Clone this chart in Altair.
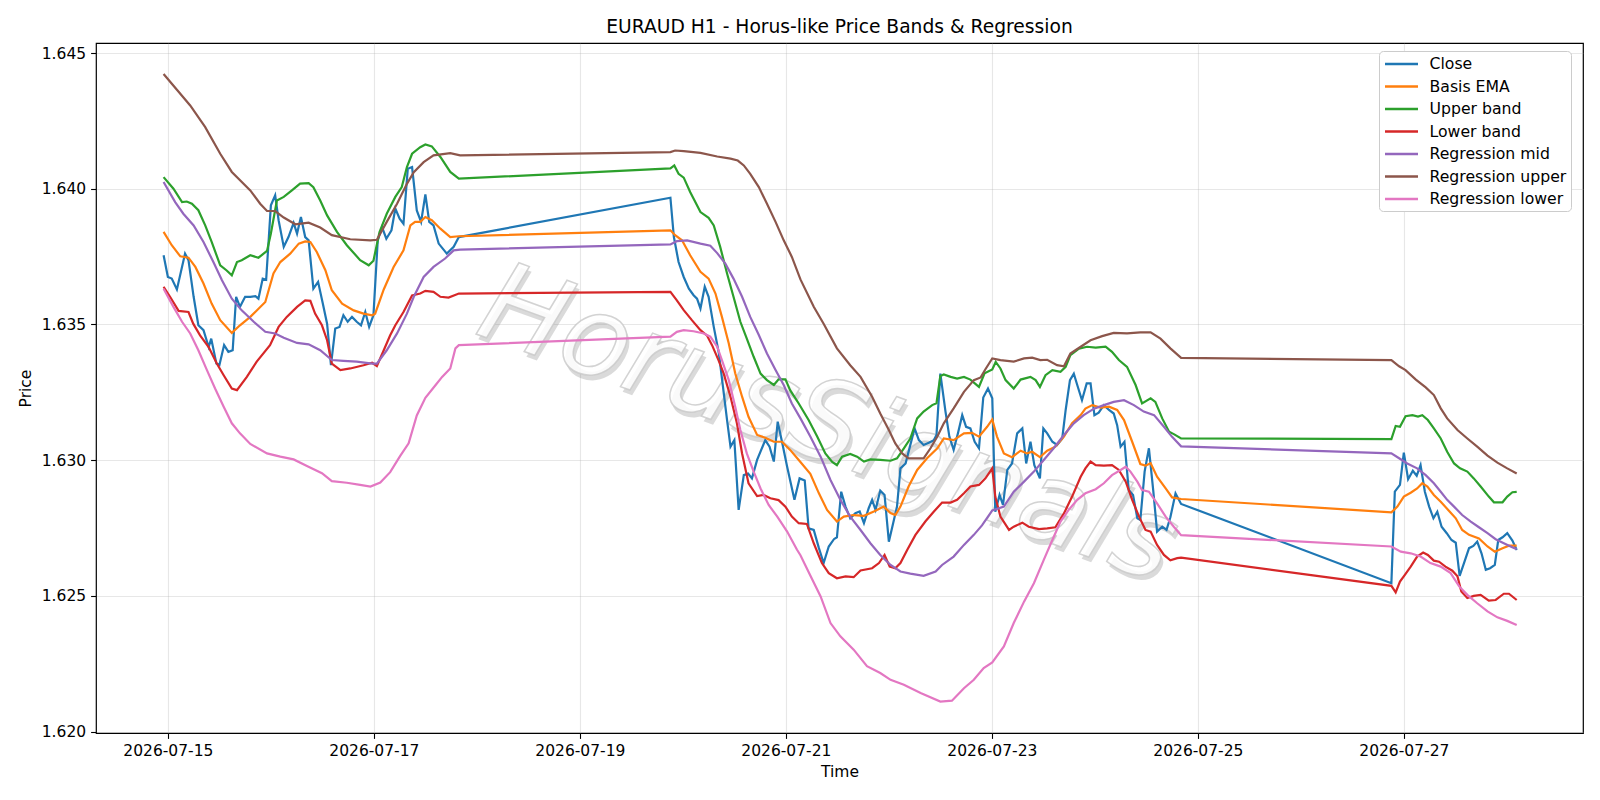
import altair as alt
import pandas as pd

# hours are counted from 2026-07-15 00:00 UTC (hourly EURAUD bars, weekend gaps)
close_h = [-1, 0, 0.9, 2.1, 4.0, 4.8, 6.0, 7.1, 8.3, 9.5, 10.1, 11.3, 12.0, 13.1, 14.1, 15.1, 15.9, 16.8, 18.0, 19.2,
           20.4, 21.1, 22.1, 22.9, 24.0, 25.0, 25.8, 27.0, 28.1, 29.3, 30.1, 31.0, 32.0, 32.8, 33.9, 35.0, 36.1, 37.1,
           38.0, 39.0, 40.0, 40.9, 41.9, 42.9, 44.0, 45.0, 46.0, 46.9, 47.9, 48.9, 49.9, 50.9, 52.1, 53.0, 54.0, 54.9,
           55.9, 56.9, 58.0, 59.0, 60.0, 60.9, 61.9, 63.1, 65.0, 66.6, 67.8,
           117.1, 117.9, 119.0, 120.2, 121.4, 122.5, 123.3, 124.1, 125.1, 126.0, 127.2, 128.4, 129.4, 130.3, 131.1,
           132.0, 133.0, 134.2, 135.2, 136.1, 137.3, 139.2, 140.2, 141.2, 142.1, 143.1, 144.3, 146.0, 147.2, 148.4,
           149.3, 150.5, 151.7, 152.8, 154.0, 155.2, 155.9, 156.9, 157.9, 159.0, 160.2, 161.2, 162.2, 163.3, 164.1,
           164.9, 166.0, 167.0, 168.0, 169.0, 169.9, 170.7, 171.9, 172.9, 174.0, 175.0, 176.1, 177.3, 178.5, 179.1,
           180.0, 181.2, 182.1, 183.1, 184.1, 185.1, 186.0, 187.0, 188.0, 189.0, 190.0, 191.1, 192.1, 192.8, 193.8,
           194.6, 195.6, 196.7, 197.9, 199.1, 200.0, 201.0, 201.9, 203.2, 204.0, 204.9, 206.1, 207.2, 208.4, 209.2,
           210.2, 211.1, 211.9, 213.0, 214.1, 215.0, 215.9, 216.9, 218.1, 219.3, 220.4, 221.2, 222.0, 222.9, 223.9,
           224.9, 225.9, 226.6, 227.6, 228.6, 229.6, 230.5, 231.7, 232.7, 233.6, 234.8, 236.1,
           285.1, 285.9, 287.1, 288.0, 289.0, 290.1, 291.0, 291.9, 292.9, 293.9, 294.9, 295.8, 296.8, 298.0, 299.1,
           300.1, 301.0, 302.0, 303.2, 304.2, 305.1, 306.1, 307.1, 308.1, 309.2, 310.0, 311.0, 312.1, 313.3, 314.3]
close_v = [1.63755, 1.63675, 1.63669, 1.63629, 1.63761, 1.63737, 1.63602, 1.63497, 1.63479, 1.63417, 1.63448, 1.63356,
           1.63350, 1.63424, 1.63399, 1.63405, 1.63602, 1.63565, 1.63602, 1.63602, 1.63604, 1.63595, 1.63669, 1.63665,
           1.63939, 1.63976, 1.63884, 1.63786, 1.63822, 1.63874, 1.63835, 1.63896, 1.63822, 1.63810, 1.63632, 1.63657,
           1.63577, 1.63503, 1.63350, 1.63485, 1.63491, 1.63534, 1.63510, 1.63528, 1.63510, 1.63497, 1.63546, 1.63491,
           1.63534, 1.63810, 1.63859, 1.63816, 1.63847, 1.63927, 1.63890, 1.63871, 1.64074, 1.64080, 1.63920, 1.63878,
           1.63979, 1.63878, 1.63865, 1.63798, 1.63761, 1.63786, 1.63822,
           1.63967, 1.63823, 1.63730, 1.63675, 1.63632, 1.63608, 1.63595, 1.63559, 1.63639, 1.63602, 1.63491, 1.63393,
           1.63264, 1.63148, 1.63050, 1.63074, 1.62817, 1.62945, 1.62951, 1.62933, 1.63001, 1.63074, 1.63050, 1.62995,
           1.63142, 1.63068, 1.62976, 1.62854, 1.62933, 1.62925, 1.62749, 1.62743, 1.62676, 1.62621, 1.62682, 1.62709,
           1.62716, 1.62884, 1.62829, 1.62786, 1.62805, 1.62811, 1.62768, 1.62823, 1.62854, 1.62817, 1.62888, 1.62872,
           1.62700, 1.62768, 1.62829, 1.62970, 1.62988, 1.63050, 1.63117, 1.63074, 1.63056, 1.63064, 1.63074, 1.63093,
           1.63319, 1.63179, 1.63087, 1.63038, 1.63099, 1.63166, 1.63123, 1.63117, 1.63068, 1.63044, 1.63231, 1.63264,
           1.63228, 1.62810, 1.62872, 1.62835, 1.62964, 1.62988, 1.63099, 1.63117, 1.62988, 1.63068, 1.62982, 1.62933,
           1.63117, 1.63099, 1.63068, 1.63056, 1.63080, 1.63185, 1.63295, 1.63319, 1.63277, 1.63221, 1.63283, 1.63283,
           1.63166, 1.63175, 1.63203, 1.63185, 1.63172, 1.63129, 1.63050, 1.63068, 1.62890, 1.62872, 1.62786, 1.62780,
           1.62958, 1.63044, 1.62890, 1.62737, 1.62755, 1.62743, 1.62790, 1.62878, 1.62839,
           1.62547, 1.62884, 1.62909, 1.63028, 1.62930, 1.62961, 1.62943, 1.62982, 1.62884, 1.62829, 1.62786, 1.62810,
           1.62755, 1.62731, 1.62706, 1.62696, 1.62574, 1.62620, 1.62676, 1.62684, 1.62700, 1.62657, 1.62596, 1.62602,
           1.62614, 1.62706, 1.62716, 1.62731, 1.62704, 1.62669]

ema_h = [-1, 0.9, 2.9, 4.8, 6.4, 8.3, 10.2, 12.2, 14.9, 16.8, 19.2, 22.7, 24.6, 26.2, 28.5, 30.5, 32.0, 33.2, 34.7,
         36.7, 38.2, 40.6, 43.3, 45.6, 47.6, 48.3, 50.3, 52.6, 54.9, 56.5, 57.6, 58.8, 60.0, 61.5, 63.5, 65.8, 67.8,
         117.1, 118.2, 119.8, 121.7, 124.1, 126.0, 127.6, 129.1, 130.7, 132.2, 133.8, 135.3, 137.3, 139.2, 141.2,
         143.1, 145.0, 147.0, 149.7, 151.7, 153.6, 155.9, 157.5, 159.8, 162.2, 164.5, 166.8, 168.4, 169.5, 170.7,
         172.6, 174.6, 176.9, 179.3, 180.8, 183.1, 185.5, 187.4, 189.0, 190.9, 192.1, 193.2, 194.8, 196.7, 198.7,
         200.2, 201.4, 203.2, 204.9, 206.8, 208.8, 210.7, 212.7, 213.8, 215.4, 217.3, 219.3, 221.2, 222.8, 224.7,
         226.6, 227.8, 229.0, 230.5, 232.5, 234.0, 236.1,
         285.1, 286.5, 288.0, 289.6, 291.1, 292.3, 293.5, 295.0, 296.6, 298.5, 300.1, 301.6, 303.2, 305.5, 307.5,
         309.2, 311.0, 312.5, 314.3]
ema_v = [1.63841, 1.63792, 1.63751, 1.63746, 1.63712, 1.63651, 1.63577, 1.63516, 1.63469, 1.63497, 1.63528, 1.63583,
         1.63688, 1.63730, 1.63761, 1.63798, 1.63806, 1.63804, 1.63767, 1.63700, 1.63626, 1.63577, 1.63552, 1.63540,
         1.63534, 1.63540, 1.63629, 1.63712, 1.63773, 1.63865, 1.63878, 1.63878, 1.63896, 1.63884, 1.63853, 1.63822,
         1.63825,
         1.63847, 1.63829, 1.63810, 1.63755, 1.63694, 1.63669, 1.63614, 1.63528, 1.63430, 1.63320, 1.63234, 1.63160,
         1.63093, 1.63083, 1.63068, 1.63068, 1.63038, 1.63001, 1.62950, 1.62878, 1.62817, 1.62774, 1.62792, 1.62798,
         1.62795, 1.62811, 1.62829, 1.62805, 1.62798, 1.62829, 1.62903, 1.62964, 1.63007, 1.63044, 1.63080, 1.63074,
         1.63099, 1.63101, 1.63087, 1.63123, 1.63150, 1.63087, 1.63025, 1.63011, 1.63035, 1.63025, 1.63031, 1.63011,
         1.63035, 1.63050, 1.63087, 1.63136, 1.63166, 1.63190, 1.63203, 1.63194, 1.63197, 1.63185, 1.63148, 1.63068,
         1.62986, 1.62980, 1.62989, 1.62939, 1.62896, 1.62863, 1.62857,
         1.62808, 1.62829, 1.62866, 1.62880, 1.62896, 1.62915, 1.62903, 1.62872, 1.62847, 1.62814, 1.62786, 1.62743,
         1.62725, 1.62712, 1.62682, 1.62663, 1.62676, 1.62685, 1.62685]

upper_h = [-1, 1.3, 3.3, 4.4, 5.6, 7.1, 8.7, 10.2, 12.2, 13.7, 14.9, 16.1, 17.2, 19.2, 21.1, 23.1, 24.0, 25.4, 27.0,
           28.9, 30.8, 32.8, 33.9, 35.5, 37.1, 39.4, 41.7, 44.8, 46.8, 47.9, 49.3, 51.0, 53.0, 54.5, 55.7, 56.9, 58.8,
           60.0, 61.5, 63.5, 65.8, 67.8,
           117.1, 118.0, 119.0, 120.2, 121.7, 124.1, 126.0, 127.2, 128.7, 130.3, 131.8, 133.4, 134.9, 136.5, 138.1,
           139.6, 141.2, 142.3, 143.9, 145.0, 147.0, 149.3, 151.3, 153.2, 154.8, 155.9, 157.1, 159.0, 160.6, 162.2,
           163.7, 166.0, 168.4, 169.9, 171.5, 173.0, 174.6, 176.1, 178.1, 179.1, 180.0, 180.8, 182.4, 183.9, 185.5,
           187.0, 189.0, 190.3, 192.1, 192.9, 194.0, 195.2, 197.1, 198.7, 201.0, 202.2, 203.2, 204.5, 206.1, 208.0,
           209.2, 210.3, 212.3, 214.2, 216.2, 218.5, 220.0, 221.6, 223.5, 225.5, 227.0, 229.0, 230.1, 231.7, 233.3,
           234.4, 236.1,
           285.1, 286.1, 287.1, 288.4, 290.0, 291.3, 292.3, 293.6, 295.0, 296.6, 298.1, 299.7, 301.1, 302.8, 304.3,
           305.9, 307.8, 309.0, 311.0, 312.1, 313.3, 314.3]
upper_v = [1.64043, 1.64000, 1.63951, 1.63953, 1.63945, 1.63921, 1.63865, 1.63804, 1.63718, 1.63699, 1.63681, 1.63730,
           1.63737, 1.63755, 1.63746, 1.63771, 1.63835, 1.63957, 1.63970, 1.63994, 1.64019, 1.64021, 1.64006, 1.63957,
           1.63902, 1.63841, 1.63792, 1.63737, 1.63718, 1.63735, 1.63840, 1.63908, 1.63970, 1.64006, 1.64080, 1.64129,
           1.64153, 1.64163, 1.64156, 1.64117, 1.64062, 1.64037,
           1.64075, 1.64086, 1.64055, 1.64041, 1.63988, 1.63914, 1.63893, 1.63865, 1.63786, 1.63688, 1.63602, 1.63510,
           1.63448, 1.63381, 1.63319, 1.63295, 1.63277, 1.63298, 1.63298, 1.63258, 1.63209, 1.63148, 1.63087, 1.63025,
           1.62994, 1.62982, 1.63013, 1.63023, 1.63013, 1.62995, 1.63003, 1.63001, 1.62998, 1.63007, 1.63044, 1.63080,
           1.63154, 1.63179, 1.63203, 1.63210, 1.63310, 1.63316, 1.63307, 1.63301, 1.63307, 1.63297, 1.63270, 1.63320,
           1.63334, 1.63362, 1.63338, 1.63295, 1.63264, 1.63297, 1.63307, 1.63295, 1.63270, 1.63313, 1.63332, 1.63326,
           1.63344, 1.63387, 1.63411, 1.63418, 1.63415, 1.63418, 1.63399, 1.63369, 1.63344, 1.63277, 1.63209, 1.63228,
           1.63215, 1.63154, 1.63105, 1.63096, 1.63080,
           1.63078, 1.63126, 1.63123, 1.63162, 1.63166, 1.63161, 1.63166, 1.63148, 1.63117, 1.63080, 1.63031, 1.62988,
           1.62970, 1.62958, 1.62933, 1.62903, 1.62866, 1.62845, 1.62845, 1.62866, 1.62882, 1.62883]

lower_h = [-1, 0.5, 2.5, 4.8, 5.9, 7.5, 9.5, 11.4, 13.0, 14.9, 16.1, 18.4, 20.7, 23.8, 25.8, 27.7, 30.1, 32.0, 33.2,
           34.3, 35.9, 37.1, 38.2, 40.2, 42.5, 45.6, 47.6, 48.7, 50.3, 51.8, 53.0, 54.9, 56.9, 58.8, 60.0, 61.9, 63.5,
           65.4, 67.8,
           117.1, 118.6, 120.2, 122.1, 124.1, 125.6, 126.8, 128.3, 129.5, 131.1, 132.6, 133.8, 135.3, 137.3, 138.8,
           140.4, 142.3, 143.9, 145.4, 147.0, 148.9, 150.5, 152.4, 154.0, 155.9, 157.9, 159.8, 161.4, 164.1, 165.7,
           167.0, 168.2, 169.5, 170.7, 172.3, 174.2, 176.5, 178.5, 180.4, 182.4, 183.9, 185.5, 187.0, 189.0, 190.5,
           192.1, 192.8, 194.0, 196.0, 197.1, 199.1, 200.6, 203.0, 204.9, 206.8, 208.8, 210.7, 212.7, 213.8, 215.0,
           216.2, 218.1, 220.0, 221.6, 223.2, 224.7, 226.3, 227.8, 229.0, 230.5, 232.1, 233.6, 235.2, 236.1,
           285.1, 286.1, 287.1, 288.2, 289.6, 291.1, 292.5, 293.6, 295.0, 296.2, 297.7, 299.3, 300.5, 301.4, 302.8,
           304.3, 305.9, 307.8, 309.4, 311.3, 312.5, 314.3]
lower_v = [1.63639, 1.63602, 1.63550, 1.63546, 1.63503, 1.63460, 1.63417, 1.63356, 1.63313, 1.63264, 1.63258, 1.63307,
           1.63363, 1.63424, 1.63491, 1.63528, 1.63565, 1.63589, 1.63587, 1.63540, 1.63497, 1.63442, 1.63356, 1.63332,
           1.63338, 1.63350, 1.63359, 1.63347, 1.63405, 1.63460, 1.63497, 1.63546, 1.63607, 1.63614, 1.63624, 1.63620,
           1.63602, 1.63599, 1.63614,
           1.63620, 1.63589, 1.63553, 1.63516, 1.63479, 1.63460, 1.63424, 1.63369, 1.63320, 1.63234, 1.63136, 1.63025,
           1.62915, 1.62868, 1.62872, 1.62860, 1.62853, 1.62829, 1.62792, 1.62768, 1.62765, 1.62694, 1.62621, 1.62584,
           1.62565, 1.62572, 1.62569, 1.62594, 1.62602, 1.62621, 1.62651, 1.62608, 1.62602, 1.62621, 1.62670, 1.62725,
           1.62774, 1.62811, 1.62844, 1.62844, 1.62854, 1.62878, 1.62903, 1.62909, 1.62933, 1.62970, 1.62866, 1.62792,
           1.62743, 1.62755, 1.62770, 1.62755, 1.62746, 1.62749, 1.62753, 1.62804, 1.62866, 1.62939, 1.62970, 1.62995,
           1.62982, 1.62980, 1.62982, 1.62964, 1.62921, 1.62854, 1.62792, 1.62743, 1.62737, 1.62688, 1.62651, 1.62631,
           1.62639, 1.62641,
           1.62537, 1.62513, 1.62553, 1.62577, 1.62608, 1.62645, 1.62660, 1.62651, 1.62630, 1.62626, 1.62608, 1.62593,
           1.62572, 1.62516, 1.62492, 1.62500, 1.62504, 1.62483, 1.62485, 1.62508, 1.62508, 1.62485]

regmid_h = [-1, 1.7, 3.6, 6.0, 8.3, 10.6, 12.6, 14.9, 17.2, 20.0, 22.7, 25.0, 27.0, 30.1, 32.8, 35.5, 38.2, 40.9, 44.0,
            47.6, 48.7, 51.0, 53.4, 55.7, 57.3, 59.6, 61.9, 64.6, 66.6, 68.1,
            117.1, 118.6, 121.0, 124.1, 126.4, 128.0, 129.9, 131.8, 133.8, 135.7, 137.7, 139.6, 141.6, 143.5, 145.4,
            147.4, 149.7, 152.1, 154.4, 156.7, 159.0, 161.4, 163.7, 166.0, 168.4, 170.7, 173.0, 176.1, 178.9, 180.4,
            183.1, 185.5, 187.8, 189.7, 192.1, 194.8, 197.1, 199.5, 201.8, 204.1, 206.4, 208.8, 211.1, 213.4, 215.8,
            218.1, 220.4, 222.8, 225.1, 227.4, 229.8, 232.1, 234.0, 236.1,
            285.1, 286.9, 288.8, 291.1, 293.1, 295.0, 296.6, 298.1, 299.7, 301.6, 303.6, 305.5, 307.5, 309.4, 311.3,
            312.9, 314.3]
regmid_v = [1.64025, 1.63951, 1.63908, 1.63865, 1.63804, 1.63730, 1.63663, 1.63595, 1.63552, 1.63510, 1.63473, 1.63467,
            1.63451, 1.63432, 1.63427, 1.63405, 1.63369, 1.63366, 1.63363, 1.63356, 1.63356, 1.63405, 1.63467, 1.63540,
            1.63602, 1.63675, 1.63712, 1.63743, 1.63773, 1.63776,
            1.63795, 1.63807, 1.63810, 1.63798, 1.63790, 1.63763, 1.63724, 1.63669, 1.63602, 1.63528, 1.63461, 1.63393,
            1.63332, 1.63277, 1.63209, 1.63154, 1.63087, 1.63013, 1.62927, 1.62854, 1.62792, 1.62743, 1.62694, 1.62651,
            1.62614, 1.62590, 1.62582, 1.62574, 1.62590, 1.62614, 1.62645, 1.62688, 1.62725, 1.62760, 1.62815, 1.62829,
            1.62884, 1.62921, 1.62958, 1.63001, 1.63044, 1.63093, 1.63136, 1.63166, 1.63190, 1.63203, 1.63215, 1.63221,
            1.63203, 1.63179, 1.63166, 1.63123, 1.63086, 1.63051,
            1.63025, 1.63007, 1.62988, 1.62970, 1.62945, 1.62915, 1.62884, 1.62854, 1.62829, 1.62798, 1.62774, 1.62753,
            1.62731, 1.62709, 1.62694, 1.62682, 1.62672]

regup_h = [-1, 5.2, 8.7, 12.2, 14.9, 19.2, 21.5, 23.1, 25.0, 27.0, 29.7, 32.8, 35.5, 38.2, 42.5, 47.2, 48.7, 51.0,
           53.4, 55.7, 57.3, 59.6, 61.9, 65.8, 68.1,
           117.1, 118.2, 120.2, 124.1, 128.0, 131.1, 132.8, 134.2, 135.7, 137.7, 139.6, 141.6, 143.5, 145.4, 147.4,
           150.5, 152.8, 155.9, 159.0, 161.4, 164.1, 166.0, 168.0, 169.5, 171.1, 172.6, 176.1, 177.7, 179.3, 180.8,
           183.1, 185.5, 187.8, 189.4, 190.5, 192.1, 194.0, 197.1, 199.5, 201.4, 203.3, 204.9, 207.2, 208.8, 210.3,
           212.7, 215.0, 217.7, 220.4, 223.5, 226.6, 229.0, 231.3, 233.6, 236.1,
           285.1, 286.9, 288.4, 290.8, 293.1, 295.0, 296.6, 298.1, 300.5, 302.8, 305.1, 307.5, 309.8, 312.1, 314.3]
regup_v = [1.64423, 1.64307, 1.64227, 1.64129, 1.64062, 1.63994, 1.63945, 1.63918, 1.63918, 1.63894, 1.63869, 1.63875,
           1.63857, 1.63829, 1.63814, 1.63810, 1.63812, 1.63878, 1.63945, 1.64018, 1.64061, 1.64098, 1.64123, 1.64131,
           1.64123,
           1.64135, 1.64141, 1.64139, 1.64132, 1.64119, 1.64111, 1.64104, 1.64086, 1.64055, 1.64006, 1.63945, 1.63878,
           1.63810, 1.63749, 1.63666, 1.63565, 1.63503, 1.63412, 1.63350, 1.63307, 1.63234, 1.63172, 1.63111, 1.63062,
           1.63025, 1.63007, 1.63007, 1.63044, 1.63087, 1.63136, 1.63191, 1.63252, 1.63295, 1.63305, 1.63335, 1.63375,
           1.63369, 1.63363, 1.63375, 1.63378, 1.63369, 1.63370, 1.63350, 1.63346, 1.63393, 1.63418, 1.63442, 1.63457,
           1.63469, 1.63467, 1.63471, 1.63471, 1.63448, 1.63412, 1.63377,
           1.63369, 1.63346, 1.63332, 1.63297, 1.63268, 1.63240, 1.63191, 1.63154, 1.63111, 1.63080, 1.63050, 1.63017,
           1.62991, 1.62970, 1.62951]

reglo_h = [-1, 1.3, 3.3, 5.2, 7.1, 9.1, 11.0, 13.0, 14.9, 16.8, 19.2, 23.1, 26.2, 29.3, 32.4, 35.9, 38.2, 41.7, 44.8,
           47.2, 49.5, 51.8, 54.1, 56.1, 58.0, 60.0, 62.3, 63.9, 65.8, 67.0, 67.8,
           117.1, 118.6, 120.2, 122.5, 124.9, 126.4, 128.0, 129.1, 130.7, 132.2, 133.4, 134.9, 136.5, 138.1, 140.0,
           142.0, 144.3, 146.6, 147.4, 149.7, 152.1, 154.4, 156.7, 159.8, 162.9, 166.0, 168.4, 171.5, 175.4, 180.0,
           182.7, 185.5, 187.8, 190.1, 192.1, 194.8, 197.1, 199.5, 201.8, 204.1, 206.1, 208.0, 209.9, 211.9, 213.8,
           216.2, 218.1, 220.0, 222.0, 223.2, 224.3, 225.9, 227.0, 228.6, 230.5, 232.5, 234.4, 236.1,
           285.1, 287.3, 289.6, 291.9, 294.2, 296.6, 298.9, 300.9, 302.8, 305.1, 307.5, 309.8, 312.1, 314.3]
reglo_v = [1.63632, 1.63565, 1.63510, 1.63467, 1.63405, 1.63332, 1.63264, 1.63197, 1.63136, 1.63099, 1.63060, 1.63025,
           1.63013, 1.63003, 1.62979, 1.62952, 1.62923, 1.62917, 1.62909, 1.62903, 1.62918, 1.62956, 1.63015, 1.63062,
           1.63165, 1.63230, 1.63275, 1.63307, 1.63338, 1.63412, 1.63424,
           1.63455, 1.63473, 1.63479, 1.63475, 1.63467, 1.63455, 1.63418, 1.63369, 1.63295, 1.63197, 1.63111, 1.63025,
           1.62958, 1.62896, 1.62835, 1.62792, 1.62737, 1.62670, 1.62650, 1.62575, 1.62498, 1.62400, 1.62351, 1.62302,
           1.62241, 1.62216, 1.62191, 1.62173, 1.62142, 1.62111, 1.62114, 1.62160, 1.62191, 1.62234, 1.62255, 1.62314,
           1.62400, 1.62479, 1.62547, 1.62633, 1.62706, 1.62774, 1.62817, 1.62854, 1.62878, 1.62893, 1.62915, 1.62945,
           1.62964, 1.62976, 1.62958, 1.62921, 1.62890, 1.62884, 1.62841, 1.62792, 1.62755, 1.62724,
           1.62682, 1.62663, 1.62657, 1.62645, 1.62621, 1.62608, 1.62584, 1.62535, 1.62504, 1.62473, 1.62443, 1.62421,
           1.62408, 1.62393]

series_names = ["Close", "Basis EMA", "Upper band", "Lower band",
                "Regression mid", "Regression upper", "Regression lower"]
series_colors = ["#1f77b4", "#ff7f0e", "#2ca02c", "#d62728", "#9467bd", "#8c564b", "#e377c2"]
series_data = [(close_h, close_v), (ema_h, ema_v), (upper_h, upper_v), (lower_h, lower_v),
               (regmid_h, regmid_v), (regup_h, regup_v), (reglo_h, reglo_v)]

tick_days = [15, 17, 19, 21, 23, 25, 27]
y_ticks = [1.620, 1.625, 1.630, 1.635, 1.640, 1.645]
title_text = "EURAUD H1 - Horus-like Price Bands & Regression"
watermark_text = "HorusSignals"

BASE = pd.Timestamp("2026-07-15T00:00:00")
frames = []
for name, (hs, vs) in zip(series_names, series_data):
    times = [(BASE + pd.Timedelta(hours=h)).strftime("%Y-%m-%dT%H:%M:%SZ") for h in hs]
    frames.append(pd.DataFrame({"time": times, "price": vs, "series": name}))
df = pd.concat(frames, ignore_index=True)

FONT = "DejaVu Sans"

x_enc = alt.X(
    "time:T",
    title="Time",
    scale=alt.Scale(
        type="utc",
        domain=[alt.DateTime(year=2026, month=7, date=14, hours=7, minutes=15, utc=True),
                alt.DateTime(year=2026, month=7, date=28, hours=17, minutes=45, utc=True)],
    ),
    axis=alt.Axis(
        values=[alt.DateTime(year=2026, month=7, date=d, utc=True) for d in tick_days],
        labelExpr="utcFormat(datum.value, '%Y-%m-%d')", labelAngle=0, titlePadding=5, labelPadding=5.5,
    ),
)
y_enc = alt.Y(
    "price:Q",
    title="Price",
    scale=alt.Scale(domain=[1.61995, 1.64537], nice=False, zero=False),
    axis=alt.Axis(values=y_ticks, format=".3f", titlePadding=8, labelPadding=5),
)
color_enc = alt.Color(
    "series:N",
    scale=alt.Scale(domain=series_names, range=series_colors),
    legend=alt.Legend(
        title=None, orient="none", legendX=1283, legendY=8,
        symbolType="M-2.2,0H2.2", symbolSize=225, symbolStrokeWidth=2.3, symbolOffset=9.5,
        labelFontSize=15.7, labelFont=FONT, labelColor="black", labelLimit=400,
        labelOffset=19, rowPadding=5.5, padding=4,
        fillColor="white", strokeColor="#cccccc", cornerRadius=4,
    ),
)

lines = alt.Chart(df).mark_line(strokeWidth=2.2).encode(
    x=x_enc, y=y_enc, color=color_enc, detail="series:N"
)

wm_df = pd.DataFrame({"label": [watermark_text]})
wm_shadow = alt.Chart(wm_df).mark_text(
    font=FONT, fontSize=112, fontStyle="italic",
    angle=20, fill="#7a7a7a", fillOpacity=0.28, dx=4, dy=4,
).encode(text="label:N", x=alt.value(732), y=alt.value(383))
wm = alt.Chart(wm_df).mark_text(
    font=FONT, fontSize=112, fontStyle="italic",
    angle=20, fill="white", fillOpacity=0.85, stroke="#c8c8c8", strokeWidth=1.5, strokeOpacity=0.8,
).encode(text="label:N", x=alt.value(732), y=alt.value(383))

chart = alt.layer(wm_shadow, wm, lines).properties(
    width=1487, height=690,
    title=alt.TitleParams(title_text, fontSize=18.7, font=FONT, fontWeight="normal",
                          anchor="middle", frame="group", offset=9, dy=18,
                          baseline="alphabetic", color="black"),
    autosize=alt.AutoSizeParams(type="none"),
    padding={"left": 96, "top": 43, "right": 17, "bottom": 67},
    background="white",
).configure_view(
    stroke="black", strokeWidth=1.2
).configure_axis(
    grid=True, gridColor="#b0b0b0", gridOpacity=0.3, gridWidth=1.1,
    domain=False, ticks=True, tickColor="black", tickSize=5.4, tickWidth=1.1,
    labelFont=FONT, labelFontSize=15.5, labelColor="black",
    titleFont=FONT, titleFontSize=15.5, titleFontWeight="normal", titleColor="black",
)

chart.save("out.html", embed_options={"renderer": "svg", "actions": False})
